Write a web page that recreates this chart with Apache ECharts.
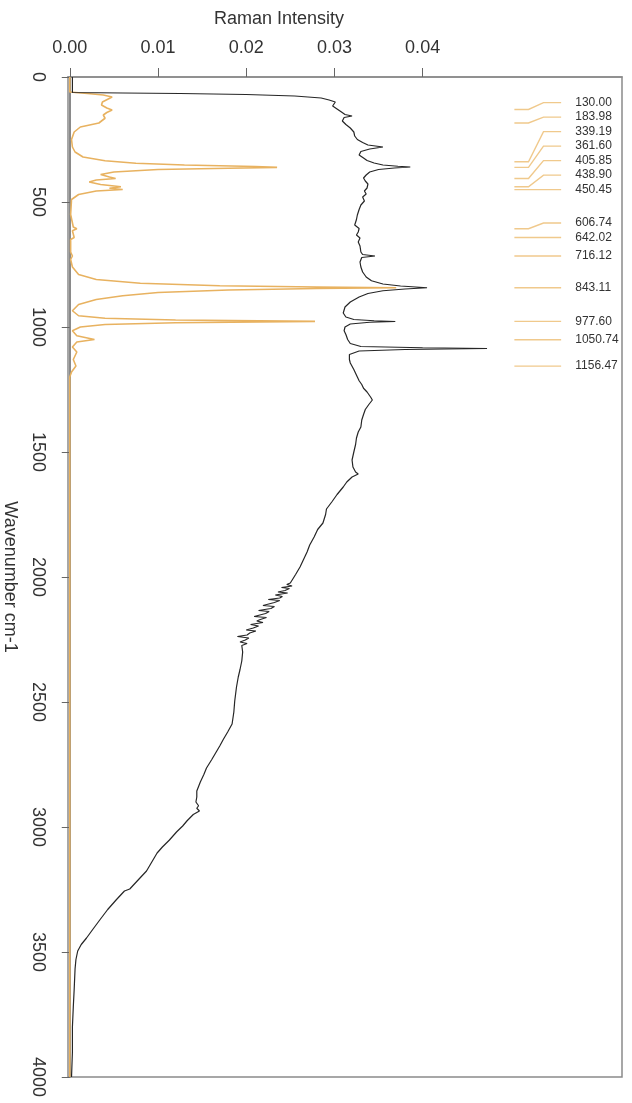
<!DOCTYPE html>
<html>
<head>
<meta charset="utf-8">
<title>Raman spectrum</title>
<script src="https://cdn.jsdelivr.net/npm/echarts@6/dist/echarts.min.js"></script>
<style>
  html, body { margin: 0; padding: 0; background: #fff; }
  #chart { width: 632px; height: 1103px; }
</style>
</head>
<body>
<div id="chart"></div>
<script>
// Measured sample spectrum: [wavenumber cm-1, Raman intensity]
const sampleSpectrum = [
  [0, 0.0003], [30, 0.0003], [62, 0.0003], [64, 0.0060], [66, 0.0125], [70, 0.0200], [76, 0.0255], [84, 0.0285],
  [92, 0.0294], [100, 0.0301], [106, 0.0303], [116, 0.0298], [128, 0.0303], [140, 0.0308], [150, 0.0312], [156, 0.0320],
  [162, 0.0311], [176, 0.0309], [190, 0.0313], [204, 0.0318], [220, 0.0322], [236, 0.0323], [250, 0.0326], [262, 0.0332],
  [272, 0.0338], [280, 0.0355], [288, 0.0340], [298, 0.0330], [312, 0.0328], [324, 0.0333], [334, 0.0337], [344, 0.0345],
  [352, 0.0355], [357, 0.0372], [360, 0.0386], [364, 0.0368], [370, 0.0350], [380, 0.0340], [392, 0.0336], [404, 0.0333],
  [416, 0.0335], [428, 0.0338], [444, 0.0337], [456, 0.0334], [468, 0.0336], [480, 0.0332], [496, 0.0334], [512, 0.0330],
  [530, 0.0328], [552, 0.0326], [570, 0.0325], [592, 0.0323], [606, 0.0328], [620, 0.0327], [632, 0.0325], [644, 0.0329],
  [660, 0.0327], [676, 0.0329], [700, 0.0330], [710, 0.0332], [716, 0.0346], [722, 0.0331], [740, 0.0329], [760, 0.0330],
  [780, 0.0332], [800, 0.0336], [815, 0.0342], [828, 0.0355], [836, 0.0375], [843, 0.0405], [848, 0.0380], [855, 0.0355],
  [866, 0.0338], [880, 0.0328], [900, 0.0318], [920, 0.0312], [944, 0.0310], [960, 0.0313], [970, 0.0322], [975, 0.0345],
  [978, 0.0369], [981, 0.0340], [988, 0.0318], [1000, 0.0312], [1015, 0.0311], [1030, 0.0313], [1050, 0.0315], [1066, 0.0318],
  [1078, 0.0330], [1083, 0.0400], [1086, 0.0473], [1090, 0.0380], [1096, 0.0328], [1110, 0.0317], [1130, 0.0317], [1144, 0.0318],
  [1170, 0.0322], [1200, 0.0326], [1215, 0.0328], [1230, 0.0331], [1245, 0.0333], [1260, 0.0337], [1280, 0.0341], [1292, 0.0343],
  [1310, 0.0339], [1330, 0.0335], [1350, 0.0333], [1372, 0.0331], [1400, 0.0330], [1420, 0.0327], [1444, 0.0325], [1470, 0.0324],
  [1500, 0.0322], [1532, 0.0320], [1560, 0.0321], [1580, 0.0324], [1588, 0.0327], [1600, 0.0320], [1620, 0.0314], [1640, 0.0310],
  [1670, 0.0303], [1700, 0.0297], [1728, 0.0291], [1750, 0.0290], [1784, 0.0287], [1810, 0.0281], [1840, 0.0277], [1872, 0.0272],
  [1900, 0.0269], [1930, 0.0265], [1960, 0.0261], [1990, 0.0256], [2024, 0.0250], [2030, 0.0246], [2036, 0.0252], [2042, 0.0240],
  [2046, 0.0249], [2054, 0.0244], [2060, 0.0236], [2064, 0.0247], [2072, 0.0233], [2078, 0.0241], [2084, 0.0238], [2090, 0.0225],
  [2094, 0.0238], [2102, 0.0232], [2108, 0.0234], [2114, 0.0219], [2118, 0.0232], [2126, 0.0228], [2134, 0.0214], [2138, 0.0226],
  [2146, 0.0222], [2152, 0.0220], [2158, 0.0209], [2162, 0.0223], [2170, 0.0216], [2176, 0.0212], [2182, 0.0219], [2190, 0.0205],
  [2196, 0.0214], [2204, 0.0208], [2212, 0.0200], [2216, 0.0211], [2224, 0.0204], [2232, 0.0201], [2238, 0.0190], [2244, 0.0203],
  [2252, 0.0199], [2260, 0.0193], [2266, 0.0201], [2274, 0.0195], [2282, 0.0194], [2300, 0.0196], [2336, 0.0195], [2370, 0.0193],
  [2400, 0.0191], [2440, 0.0189], [2496, 0.0187], [2540, 0.0186], [2588, 0.0184], [2620, 0.0179], [2650, 0.0174], [2676, 0.0170],
  [2700, 0.0166], [2730, 0.0161], [2764, 0.0155], [2790, 0.0152], [2820, 0.0148], [2856, 0.0144], [2880, 0.0144], [2900, 0.0143],
  [2915, 0.0146], [2925, 0.0144], [2936, 0.0147], [2950, 0.0140], [2975, 0.0133], [2996, 0.0128], [3020, 0.0121], [3052, 0.0113],
  [3080, 0.0105], [3104, 0.0099], [3140, 0.0093], [3176, 0.0087], [3210, 0.0078], [3248, 0.0068], [3256, 0.0062], [3290, 0.0053],
  [3330, 0.0043], [3372, 0.0034], [3410, 0.0026], [3444, 0.0019], [3470, 0.0013], [3496, 0.0009], [3530, 0.0007], [3568, 0.0006],
  [3650, 0.0005], [3720, 0.0004], [3800, 0.0003], [3900, 0.0003], [4000, 0.0002]
];

// Reference (library) spectrum: [wavenumber cm-1, Raman intensity]
const referenceSpectrum = [
  [0, 0], [60, 0], [62, 0.0002], [66, 0.0020], [72, 0.0038], [80, 0.0048], [88, 0.0046], [100, 0.0037],
  [112, 0.0036], [124, 0.0042], [132, 0.0048], [142, 0.0042], [152, 0.0038], [165, 0.0040], [184, 0.0033], [200, 0.0012],
  [220, 0.0005], [250, 0.0002], [280, 0.0003], [300, 0.0006], [320, 0.0015], [335, 0.0040], [345, 0.0075], [352, 0.0130],
  [358, 0.0210], [361.6, 0.0235], [365, 0.0180], [370, 0.0100], [380, 0.0050], [390, 0.0035], [400, 0.0045], [406, 0.0052],
  [412, 0.0030], [420, 0.0022], [430, 0.0035], [439, 0.0058], [445, 0.0045], [450, 0.0060], [456, 0.0030], [470, 0.0010],
  [490, 0.0002], [550, 0.0001], [600, 0.0004], [607, 0.0008], [615, 0.0003], [642, 0.0005], [650, 0.0001], [700, 0.0001],
  [716, 0.0003], [730, 0.0001], [760, 0.0003], [790, 0.0010], [810, 0.0030], [825, 0.0080], [835, 0.0170], [840, 0.0280],
  [843, 0.0370], [846, 0.0280], [852, 0.0180], [862, 0.0100], [875, 0.0060], [890, 0.0030], [910, 0.0010], [935, 0.0003],
  [955, 0.0010], [965, 0.0040], [972, 0.0120], [977.6, 0.0278], [983, 0.0120], [990, 0.0040], [1000, 0.0012], [1015, 0.0003],
  [1035, 0.0008], [1050, 0.0028], [1060, 0.0008], [1080, 0.0003], [1100, 0.0008], [1130, 0.0004], [1156, 0.0007], [1180, 0.0002],
  [1200, 0], [4000, 0]
];

// Assigned reference peaks (cm-1)
const peakPositions = [130.00, 183.98, 339.19, 361.60, 405.85, 438.90, 450.45, 606.74, 642.02, 716.12, 843.11, 977.60, 1050.74, 1156.47];

// Axis ticks
const intensityTicks = [0, 0.01, 0.02, 0.03, 0.04];
const wavenumberMin = 0, wavenumberMax = 4000, wavenumberStep = 500;

const FONT = "'Liberation Sans', Arial, sans-serif";

// Peak labels are stacked in a column; crowded labels are pushed upward so
// that neighbours keep a minimum spacing (in cm-1).
function stackLabels(peaks, gap) {
  const slots = peaks.slice();
  for (let i = slots.length - 2; i >= 0; i--) {
    slots[i] = Math.min(peaks[i], slots[i + 1] - gap);
  }
  return slots;
}
const labelSlots = stackLabels(peakPositions, 58);

// [wn, I] -> [I, wn] (intensity runs horizontally, wavenumber downwards)
const toXY = s => s.map(p => [p[1], p[0]]);

// leader line anchor columns, in intensity units
const LEAD = [0.0504, 0.0520, 0.0537, 0.0557];
const LABEL_X = 0.0573;

const chart = echarts.init(document.getElementById('chart'), null, { renderer: 'canvas' });

chart.setOption({
  animation: false,
  backgroundColor: '#fff',
  grid: {
    left: 68, right: 10, top: 77, bottom: 26,
    outerBoundsMode: 'none',
    containLabel: false,
    show: true, borderColor: '#8a8a8a', borderWidth: 1.5, backgroundColor: 'transparent'
  },
  graphic: [{
    type: 'text', x: 279, y: 19,
    style: { text: 'Raman Intensity', font: '18px ' + FONT, fill: '#333', align: 'center', verticalAlign: 'middle' }
  }],
  xAxis: {
    type: 'value', position: 'top',
    min: -0.0002, max: 0.0626,
    axisLine: { show: true, lineStyle: { color: '#8a8a8a', width: 1.5 } },
    axisTick: { show: true, customValues: intensityTicks, length: 9, lineStyle: { color: '#666', width: 1 } },
    axisLabel: {
      customValues: intensityTicks, margin: 20,
      formatter: v => v.toFixed(2),
      color: '#333', fontSize: 18, fontFamily: FONT
    },
    splitLine: { show: false }
  },
  yAxis: {
    type: 'value', inverse: true,
    min: wavenumberMin, max: wavenumberMax, interval: wavenumberStep,
    name: 'Wavenumber cm-1', nameLocation: 'middle', nameGap: 49, nameRotate: -90,
    nameTextStyle: { fontSize: 18, fontFamily: FONT, color: '#333' },
    axisLine: { show: true, lineStyle: { color: '#8a8a8a', width: 2 } },
    axisTick: { show: true, length: 8, lineStyle: { color: '#666', width: 1 } },
    axisLabel: { rotate: -90, margin: 21, formatter: v => String(v), color: '#333', fontSize: 18, fontFamily: FONT },
    splitLine: { show: false }
  },
  series: [
    {
      name: 'Reference', type: 'line', showSymbol: false, symbol: 'none',
      data: toXY(referenceSpectrum),
      lineStyle: { color: '#E8B260', width: 1.6 }, z: 3
    },
    {
      name: 'Sample', type: 'line', showSymbol: false, symbol: 'none',
      data: toXY(sampleSpectrum),
      lineStyle: { color: '#262626', width: 1.2 }, z: 4
    },
    {
      name: 'Peaks', type: 'custom', z: 5,
      data: peakPositions.map((p, i) => [p, labelSlots[i]]),
      encode: { y: [0, 1] },
      renderItem: (params, api) => {
        const peak = api.value(0), slot = api.value(1);
        const pts = [
          api.coord([LEAD[0], peak]), api.coord([LEAD[1], peak]),
          api.coord([LEAD[2], slot]), api.coord([LEAD[3], slot])
        ];
        const t = api.coord([LABEL_X, slot]);
        return {
          type: 'group',
          children: [
            { type: 'polyline', shape: { points: pts }, style: { stroke: '#F0C98C', lineWidth: 1.4, fill: null } },
            { type: 'text', x: t[0], y: t[1],
              style: { text: peakPositions[params.dataIndex].toFixed(2), font: '12px ' + FONT, fill: '#333', align: 'left', verticalAlign: 'middle' } }
          ]
        };
      }
    }
  ]
});
</script>
</body>
</html>
